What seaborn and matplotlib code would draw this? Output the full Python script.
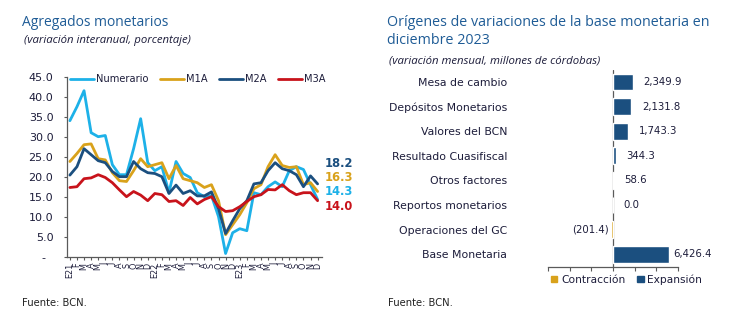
import numpy as np
import pandas as pd
import matplotlib
matplotlib.use("Agg")
import matplotlib.pyplot as plt
from matplotlib.lines import Line2D
from matplotlib.patches import Patch
import seaborn as sns

# ---- Monetary aggregates, year-on-year % (Jan 2021 - Dec 2023) ----
month_labels = ["E21", "F", "M", "A", "M", "J", "J", "A", "S", "O", "N", "D",
                "E22", "F", "M", "A", "M", "J", "J", "A", "S", "O", "N", "D",
                "E23", "F", "M", "A", "M", "J", "J", "A", "S", "O", "N", "D"]

numerario = [34.0, 37.5, 41.5, 31.0, 30.0, 30.3, 23.0, 20.5, 20.5, 27.0, 34.5, 23.5,
             21.5, 22.5, 16.0, 23.8, 20.8, 19.8, 16.0, 15.0, 15.3, 10.0, 0.8, 6.0,
             7.0, 6.5, 16.0, 15.5, 17.5, 18.7, 17.5, 21.5, 22.5, 21.8, 18.0, 14.3]
m1a = [23.8, 25.8, 28.0, 28.2, 24.5, 24.2, 21.0, 19.0, 18.8, 21.5, 24.5, 22.5,
       23.0, 23.5, 19.5, 22.8, 19.5, 19.0, 18.5, 17.3, 18.0, 14.0, 5.5, 8.0,
       10.5, 13.5, 17.0, 18.0, 22.5, 25.5, 22.8, 22.3, 22.5, 18.0, 18.5, 16.3]
m2a = [20.4, 22.5, 27.0, 25.5, 24.0, 23.5, 21.3, 20.0, 20.0, 23.8, 22.0, 21.0,
       20.8, 20.0, 15.8, 17.9, 15.8, 16.5, 15.2, 15.2, 16.2, 12.0, 5.8, 9.0,
       12.0, 14.0, 18.2, 18.5, 21.5, 23.5, 22.0, 21.5, 20.5, 17.5, 20.2, 18.2]
m3a = [17.3, 17.5, 19.5, 19.7, 20.5, 19.8, 18.5, 16.7, 15.0, 16.3, 15.4, 14.0,
       15.8, 15.5, 13.8, 14.0, 12.8, 14.8, 13.2, 14.3, 15.0, 12.5, 11.3, 11.5,
       12.5, 13.8, 15.0, 15.5, 16.8, 16.7, 18.0, 16.5, 15.5, 16.0, 16.0, 14.0]

series_names = ["Numerario", "M1A", "M2A", "M3A"]
series_values = [numerario, m1a, m2a, m3a]
series_colors = ["#1DB1E8", "#D9A21B", "#1B4F7F", "#C8131B"]

# ---- Sources of monetary base change, Dec 2023 (millions of córdobas) ----
bar_categories = ["Mesa de cambio", "Depósitos Monetarios", "Valores del BCN",
                  "Resultado Cuasifiscal", "Otros factores", "Reportos monetarios",
                  "Operaciones del GC", "Base Monetaria"]
bar_values = [2349.9, 2131.8, 1743.3, 344.3, 58.6, 0.0, -201.4, 6426.4]

TITLE_BLUE = "#1F5C96"
TEXT_DARK = "#1C1C3A"
AXIS_GRAY = "#5A5A5A"

sns.set_theme(style="white")
plt.rcParams["font.family"] = ["DejaVu Sans"]

fig = plt.figure(figsize=(7.47, 3.26), dpi=100)
W, H = 747, 326


def px_axes(x0, y_top, x1, y_bot):
    return [x0 / W, 1 - y_bot / H, (x1 - x0) / W, (y_bot - y_top) / H]


# ================= Left chart: lines =================
ax1 = fig.add_axes(px_axes(66.7, 76.7, 321.5, 256.7))

long_df = pd.DataFrame({
    "idx": np.tile(np.arange(len(month_labels)), len(series_names)),
    "valor": np.concatenate([np.asarray(v, dtype=float) for v in series_values]),
    "serie": np.repeat(series_names, len(month_labels)),
})
sns.lineplot(data=long_df, x="idx", y="valor", hue="serie", hue_order=series_names,
             palette=dict(zip(series_names, series_colors)), linewidth=2.0,
             legend=False, ax=ax1, sort=False)
for ln in ax1.get_lines():
    ln.set_solid_joinstyle("round")
    ln.set_solid_capstyle("round")
    ln.set_clip_on(False)

ax1.set_xlim(-0.45, len(month_labels) - 0.45)
ax1.set_ylim(0, 45)
ax1.set_yticks(np.arange(0, 46, 5))
ax1.set_yticklabels(["-  " if v == 0 else f"{v:.1f}" for v in np.arange(0, 46, 5)])
ax1.set_xticks(np.arange(len(month_labels)))
ax1.set_xticklabels(month_labels, rotation=90, va="top", ha="center")
ax1.set_xlabel("")
ax1.set_ylabel("")
for side in ("top", "right"):
    ax1.spines[side].set_visible(False)
for side in ("left", "bottom"):
    ax1.spines[side].set_color(AXIS_GRAY)
    ax1.spines[side].set_linewidth(0.9)
ax1.tick_params(axis="y", which="major", direction="out", length=2.4, width=0.8,
                color=AXIS_GRAY, pad=7.2, labelsize=8, labelcolor=TEXT_DARK, left=True)
ax1.tick_params(axis="x", which="major", direction="out", length=2.4, width=0.8,
                color=AXIS_GRAY, pad=2.0, labelsize=5.9, labelcolor=TEXT_DARK, bottom=True)

# legend across the top of the plot
handles = [Line2D([0], [0], color=c, lw=2.0) for c in series_colors]
fig.legend(handles, series_names, loc="center left",
           bbox_to_anchor=(70 / W, 1 - 79.5 / H), ncol=4, frameon=False,
           fontsize=7.1, handlelength=2.4, handletextpad=0.25, columnspacing=1.15,
           borderpad=0, borderaxespad=0, labelcolor=TEXT_DARK)

# closing values beside the lines
label_y = [23.4, 19.8, 16.2, 12.6]
order_for_labels = [2, 1, 0, 3]
for pos, k in zip(label_y, order_for_labels):
    ax1.text(len(month_labels) + 0.05, pos, f"{series_values[k][-1]:.1f}",
             color=series_colors[k], fontsize=8.3, fontweight="bold",
             va="center", ha="left", clip_on=False)

fig.text(22 / W, 1 - 22 / H, "Agregados monetarios", fontsize=10.0,
         color=TITLE_BLUE, family=["Open Sans", "DejaVu Sans"], va="center", ha="left")
fig.text(24 / W, 1 - 40 / H, "(variación interanual, porcentaje)", fontsize=8.2,
         color=TEXT_DARK, style="italic", family=["Open Sans", "DejaVu Sans"],
         va="center", ha="left")
fig.text(22 / W, 1 - 303 / H, "Fuente: BCN.", fontsize=7.2, color="#222222",
         family=["Liberation Sans Narrow", "DejaVu Sans"], va="center", ha="left")

# ================= Right chart: horizontal bars =================
ax2 = fig.add_axes(px_axes(548.2, 69.8, 677.8, 266.5))

bar_df = pd.DataFrame({
    "categoria": bar_categories,
    "valor": bar_values,
    "tipo": ["Contracción" if v < 0 else "Expansión" for v in bar_values],
})
bar_palette = {"Contracción": "#D9A21B", "Expansión": "#1B4F7F"}
sns.barplot(data=bar_df, y="categoria", x="valor", hue="tipo",
            hue_order=["Contracción", "Expansión"], order=bar_categories,
            palette=bar_palette, dodge=False, width=0.68, orient="h",
            legend=False, saturation=1, ax=ax2, zorder=3)

ax2.set_xlim(-7500, 7500)
ax2.set_ylim(len(bar_categories) - 0.5, -0.5)
ax2.set_xticks(np.arange(-7500, 7501, 2500))
ax2.set_xticklabels([])
ax2.set_xlabel("")
ax2.set_ylabel("")
ax2.axvline(0, color=AXIS_GRAY, lw=0.9, zorder=2)
for side in ("top", "right", "left"):
    ax2.spines[side].set_visible(False)
ax2.spines["bottom"].set_color(AXIS_GRAY)
ax2.spines["bottom"].set_linewidth(0.9)
ax2.tick_params(axis="x", direction="out", length=3.0, width=0.8, color=AXIS_GRAY,
                bottom=True)
ax2.tick_params(axis="y", length=0, pad=29.5, labelsize=7.8, labelcolor=TEXT_DARK)


def fmt_value(v):
    s = f"{abs(v):,.1f}"
    return f"({s})" if v < 0 else s


for i, v in enumerate(bar_values):
    if v < 0:
        ax2.annotate(fmt_value(v), xy=(v, i), xytext=(-1.5, 0), textcoords="offset points",
                     ha="right", va="center", fontsize=7.3, color=TEXT_DARK)
    else:
        off = 3.5 if i == len(bar_values) - 1 else 7.5
        ax2.annotate(fmt_value(v), xy=(v, i), xytext=(off, 0), textcoords="offset points",
                     ha="left", va="center", fontsize=7.3, color=TEXT_DARK)

leg_handles = [Patch(color=bar_palette["Contracción"]), Patch(color=bar_palette["Expansión"])]
fig.legend(leg_handles, ["Contracción", "Expansión"], loc="center left",
           bbox_to_anchor=(551 / W, 1 - 279.5 / H), ncol=2, frameon=False,
           fontsize=7.7, handlelength=0.6, handleheight=0.6, handletextpad=0.35,
           columnspacing=1.1, borderpad=0, borderaxespad=0, labelcolor=TEXT_DARK)

fig.text(387 / W, 1 - 23 / H, "Orígenes de variaciones de la base monetaria en",
         fontsize=10.3, color=TITLE_BLUE, family=["Open Sans", "DejaVu Sans"],
         va="center", ha="left")
fig.text(387 / W, 1 - 41 / H, "diciembre 2023", fontsize=10.3, color=TITLE_BLUE,
         family=["Open Sans", "DejaVu Sans"], va="center", ha="left")
fig.text(389 / W, 1 - 61 / H, "(variación mensual, millones de córdobas)", fontsize=8.2,
         color=TEXT_DARK, style="italic", family=["Open Sans", "DejaVu Sans"],
         va="center", ha="left")
fig.text(388 / W, 1 - 303 / H, "Fuente: BCN.", fontsize=7.2, color="#222222",
         family=["Liberation Sans Narrow", "DejaVu Sans"], va="center", ha="left")

fig.savefig("out.png", dpi=100, facecolor="white")
